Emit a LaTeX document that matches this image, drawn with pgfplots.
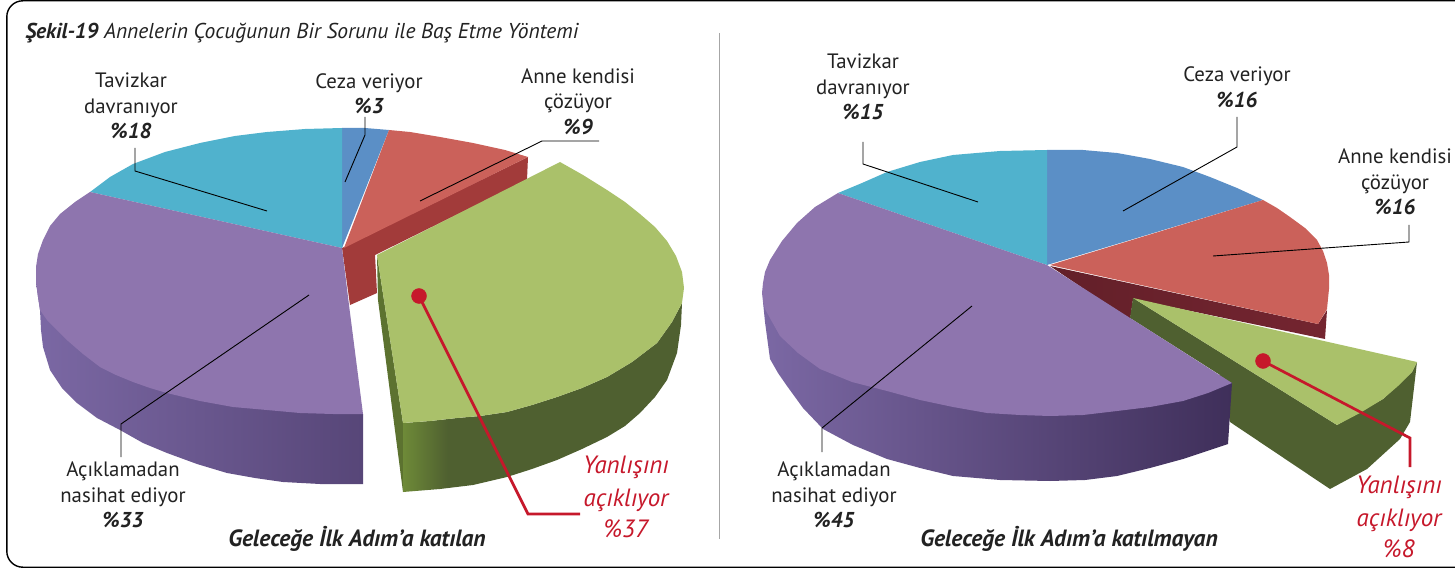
\documentclass[border=0pt]{standalone}
\usepackage{fontspec}
\setmainfont{PT Sans}
\usepackage{pgfplots}
\pgfplotsset{compat=1.18}
\definecolor{cBlue}{HTML}{5B8FC6}
\definecolor{cRed}{HTML}{CB615A}
\definecolor{cGreen}{HTML}{AAC16A}
\definecolor{cPurple}{HTML}{8E75AE}
\definecolor{cTeal}{HTML}{50B2CD}
\definecolor{cDRedL}{HTML}{A23B3A}
\definecolor{cDRedR}{HTML}{742530}
\definecolor{cGreenD}{HTML}{4F6030}
\definecolor{cGreenM}{HTML}{5C7230}
\definecolor{cGreenL}{HTML}{6E8A38}
\definecolor{cRedT}{HTML}{C6182B}
\definecolor{cTxt}{HTML}{222222}
\definecolor{cPSL}{HTML}{7B68A4}
\definecolor{cPSR}{HTML}{574678}
\definecolor{cPSRR}{HTML}{3F2F5A}
\pgfdeclarehorizontalshading{greenfront}{100bp}{color(0bp)=(cGreenL); color(25bp)=(cGreenL); color(33bp)=(cGreenD); color(100bp)=(cGreenD)}
\newcommand{\lbl}[3]{\node[anchor=base,inner sep=0pt,text=cTxt,font=\fontsize{20.8}{24}\selectfont] at (axis cs:#1,#2+1) {#3};}
\newcommand{\lblb}[3]{\node[anchor=base,inner sep=0pt,text=cTxt,font=\fontsize{21.5}{24}\selectfont\bfseries\itshape] at (axis cs:#1,#2+1) {#3};}
\newcommand{\lblr}[3]{\node[anchor=base,inner sep=0pt,text=cRedT,font=\fontsize{25}{27}\selectfont\itshape] at (axis cs:#1,#2) {#3};}
\begin{document}
\begin{tikzpicture}
\begin{axis}[scale only axis,width=1455pt,height=569pt,xmin=0,xmax=1455,ymin=0,ymax=569,y dir=reverse,hide axis,clip=true]
% frame and divider
\addplot[draw=black,line width=1.4pt,rounded corners=16pt,forget plot] coordinates {(1456,0.8)(6.8,0.8)(6.8,567.2)(1456,567.2)};
\addplot[draw=gray!70,line width=1pt,forget plot] coordinates {(719.5,33)(719.5,539)};
%%% LEFT PIE
\addplot[fill=cDRedL,draw=none,forget plot] coordinates {(342,248)(528,157)(527,180)(375,255)(377,293)(350,305)} -- cycle;
\addplot[fill=cBlue,draw=none,forget plot] coordinates {(342,248)(342,128)(365,128)(389,130)} -- cycle;
\addplot[fill=cRed,draw=none,forget plot] coordinates {(344,248)(389,130)(410,132)(440,137)(473,143)(505,150)(528,157)} -- cycle;
\addplot[fill=cTeal,draw=none,forget plot] coordinates {(342,248)(90,192)(110,177)(133,164)(165,152)(200,143)(235,136)(267,132)(305,129)(342,128)} -- cycle;
\addplot[left color=cPSL,right color=cPSR,draw=none,forget plot] coordinates {(36,282)(38,297)(40,310)(41,330)(43,347)(50,370)(62,388)(77,403)(97,418)(120,430)(143,443)(167,453)(197,464)(227,473)(255,478)(283,482)(320,484)(363,484)(363,414)} -- cycle;
\addplot[fill=cPurple,draw=none,forget plot] coordinates {(342,248)(90,192)(75,202)(60,214)(50,226)(43,240)(38,254)(36,267)(36,282)(38,297)(40,310)(47,320)(57,330)(68,341)(83,354)(100,367)(116,375)(133,382)(150,388)(167,393)(200,401)(233,407)(267,410)(300,413)(333,414)(363,414)(349,305)} -- cycle;
\addplot[fill=cGreenM,draw=none,forget plot] coordinates {(377,255)(403,423)(403,492)(378,300)} -- cycle;
\addplot[shading=greenfront,draw=none,forget plot] coordinates {(403,423)(430,421)(457,418)(480,416)(507,412)(532,405)(557,397)(582,388)(607,377)(632,362)(657,343)(672,322)(682,303)(681,325)(677,353)(667,380)(655,397)(640,413)(625,426)(607,437)(582,449)(557,460)(532,469)(507,477)(473,485)(440,489)(403,492)} -- cycle;
\addplot[fill=cGreen,draw=none,forget plot] coordinates {(377,255)(560,162)(583,175)(607,190)(625,202)(640,214)(655,227)(667,241)(676,256)(682,272)(684,288)(682,303)(672,322)(657,343)(632,362)(607,377)(582,388)(557,397)(532,405)(507,412)(480,416)(457,418)(430,421)(403,423)} -- cycle;
%%% RIGHT PIE
\addplot[left color=cDRedR!85!black,right color=cDRedR,draw=none,forget plot] coordinates {(1050,266)(1318,324)(1327,310)(1325,339)(1133,299)(1130,320)} -- cycle;
\addplot[fill=cBlue,draw=none,forget plot] coordinates {(1047,265)(1047,150)(1083,150)(1117,153)(1150,159)(1183,167)(1210,177)(1237,188)(1263,200)} -- cycle;
\addplot[fill=cRed,draw=none,forget plot] coordinates {(1050,265)(1263,200)(1277,208)(1290,217)(1305,228)(1317,240)(1323,251)(1327,263)(1329,275)(1329,289)(1327,309)(1318,324)} -- cycle;
\addplot[fill=cTeal,draw=none,forget plot] coordinates {(1047,265)(838,193)(862,183)(887,172)(920,162)(953,155)(1000,151)(1047,150)} -- cycle;
\addplot[fill=cGreenD,draw=none,forget plot] coordinates {(1133,298)(1337,425)(1383,399)(1412,372)(1417,362)(1410,422)(1400,439)(1367,469)(1330,489)(1230,422)(1220,375)(1130,318)} -- cycle;
\addplot[fill=cGreen,draw=none,forget plot] coordinates {(1133,298)(1417,362)(1412,372)(1398,386)(1383,399)(1360,413)(1337,425)} -- cycle;
\addplot[left color=cPSL,right color=cPSRR,draw=none,forget plot] coordinates {(763,302)(765,322)(770,359)(778,373)(787,386)(803,408)(823,429)(853,445)(887,459)(920,468)(953,476)(1000,480)(1050,481)(1085,480)(1117,476)(1150,468)(1183,459)(1207,451)(1228,444)(1232,383)(1050,380)} -- cycle;
\addplot[fill=cPurple,draw=none,forget plot] coordinates {(1047,265)(838,193)(815,207)(797,223)(782,241)(770,260)(765,272)(763,283)(762,293)(763,302)(765,309)(771,320)(780,336)(798,353)(820,369)(852,382)(887,391)(920,400)(953,407)(987,413)(1020,415)(1050,416)(1083,415)(1117,411)(1150,407)(1183,401)(1208,393)(1232,383)} -- cycle;
%%% leader lines
\addplot[draw=black,line width=0.9pt,forget plot] coordinates {(135,148)(135,171)(267,211)};
\addplot[draw=black,line width=0.9pt,forget plot] coordinates {(365,117)(365,135)(345,182)};
\addplot[draw=black,line width=0.9pt,forget plot] coordinates {(599,141)(542,141)(420,201)};
\addplot[draw=black,line width=0.9pt,forget plot] coordinates {(121,457)(121,424)(309,295)};
\addplot[draw=black,line width=0.9pt,forget plot] coordinates {(863,142)(863,164)(978,202)};
\addplot[draw=black,line width=0.9pt,forget plot] coordinates {(1237,117)(1237,147)(1123,211)};
\addplot[draw=black,line width=0.9pt,forget plot] coordinates {(1409,225)(1409,242)(1213,256)};
\addplot[draw=black,line width=0.9pt,forget plot] coordinates {(822,452)(822,428)(972,306)};
\addplot[draw=cRedT,line width=2.7pt,forget plot] coordinates {(419,296)(528,514)(580,514)};
\addplot[draw=cRedT,line width=2.7pt,forget plot] coordinates {(1263,361)(1410,438)(1410,467)};
\addplot[only marks,mark=*,mark size=7.5pt,mark options={fill=cRedT,draw=cRedT},forget plot] coordinates {(419,296)(1263,361)};
%%% texts
\node[anchor=base west,inner sep=0pt,text=cTxt,font=\fontsize{21.5}{24}\selectfont\itshape] at (axis cs:25,39) {\textbf{Şekil-19} Annelerin Çocuğunun Bir Sorunu ile Baş Etme Yöntemi};
\lbl{131}{87}{Tavizkar}
\lbl{131}{113}{davranıyor}
\lblb{131}{138}{\%18}
\lbl{369}{88}{Ceza veriyor}
\lblb{369}{113}{\%3}
\lbl{578}{83}{Anne kendisi}
\lbl{578}{108}{çözüyor}
\lblb{578}{134}{\%9}
\lbl{123}{475}{Açıklamadan}
\lbl{123}{501}{nasihat ediyor}
\lblb{123}{526}{\%33}
\node[anchor=base,inner sep=0pt,text=cTxt,font=\fontsize{23.5}{26}\selectfont\bfseries\itshape] at (axis cs:357,546) {Geleceğe İlk Adım’a katılan};
\lblr{626}{473}{Yanlışını}
\lblr{626}{506}{açıklıyor}
\lblr{626}{537}{\%37}
\lbl{863}{68}{Tavizkar}
\lbl{863}{94}{davranıyor}
\lblb{863}{119}{\%15}
\lbl{1237}{81}{Ceza veriyor}
\lblb{1237}{107}{\%16}
\lbl{1395}{163}{Anne kendisi}
\lbl{1395}{189}{çözüyor}
\lblb{1395}{214}{\%16}
\lbl{834}{475}{Açıklamadan}
\lbl{834}{501}{nasihat ediyor}
\lblb{834}{526}{\%45}
\node[anchor=base,inner sep=0pt,text=cTxt,font=\fontsize{23.5}{26}\selectfont\bfseries\itshape] at (axis cs:1069,546) {Geleceğe İlk Adım’a katılmayan};
\lblr{1399}{493}{Yanlışını}
\lblr{1399}{526}{açıklıyor}
\lblr{1399}{557}{\%8}
\end{axis}
\pgfresetboundingbox
\useasboundingbox (0,0) rectangle (1455pt,569pt);
\end{tikzpicture}
\end{document}
